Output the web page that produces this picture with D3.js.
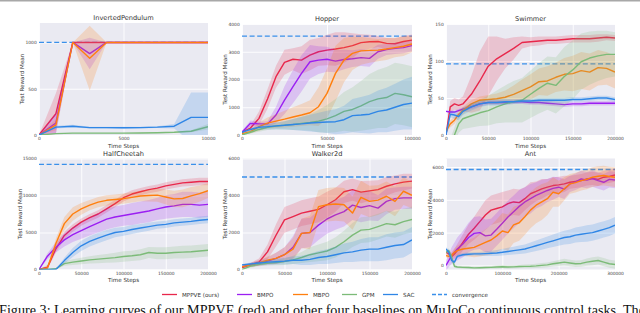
<!DOCTYPE html>
<html>
<head>
<meta charset="utf-8">
<script src="https://cdnjs.cloudflare.com/ajax/libs/d3/7.8.5/d3.min.js"></script>
<style>
  html, body { margin: 0; padding: 0; background: #fff; }
  svg { display: block; }
</style>
</head>
<body>
<svg id="chart" width="640" height="313"></svg>
<script>
// ---- InvertedPendulum ----
const ipSteps = [0, 1000, 2000, 3000, 4000, 5000, 6000, 7000, 8000, 9000, 10000];
const ipMPPVE = [0, 230, 1000, 1000, 1000, 1000, 1000, 1000, 1000, 1000, 1000];
const ipMPPVEsd = [0, 220, 0, 0, 0, 0, 0, 0, 0, 0, 0];
const ipBMPO = [0, 130, 1000, 880, 1000, 1000, 1000, 1000, 1000, 1000, 1000];
const ipBMPOsd = [0, 110, 0, 170, 0, 0, 0, 0, 0, 0, 0];
const ipMBPO = [0, 110, 1000, 830, 1000, 1000, 1000, 1000, 1000, 1000, 1000];
const ipMBPOsd = [0, 60, 0, 350, 0, 0, 0, 0, 0, 0, 0];
const ipGPM = [0, 15, 20, 20, 20, 20, 22, 25, 30, 40, 90];
const ipGPMsd = [0, 5, 5, 5, 5, 5, 5, 5, 5, 10, 30];
const ipSAC = [0, 85, 95, 80, 80, 78, 80, 85, 95, 190, 190];
const ipSACsd = [0, 15, 15, 10, 10, 10, 10, 10, 25, 270, 270];
const ipConvergence = 1000;
const ipXTicks = [0, 5000, 10000];
const ipYTicks = [0, 500, 1000];
const ipYRange = [0, 1210];

// ---- Hopper ----
const hopperSteps = [0, 5000, 10000, 15000, 20000, 25000, 30000, 35000, 40000, 45000, 50000,
  55000, 60000, 65000, 70000, 75000, 80000, 85000, 90000, 95000, 100000];
const hopperMPPVE = [100, 250, 600, 1300, 2100, 2620, 2730, 2700, 2880, 3000, 3060, 3100, 3150, 3220, 3330, 3360, 3370, 3300, 3290, 3370, 3420];
const hopperMPPVEsd = [50, 100, 250, 350, 400, 450, 400, 500, 550, 500, 550, 600, 550, 450, 300, 250, 200, 200, 200, 200, 200];
const hopperBMPO = [100, 420, 400, 400, 720, 1260, 1740, 2220, 2640, 2700, 2730, 2660, 2720, 2750, 2790, 2760, 3000, 3080, 3120, 3150, 3220];
const hopperBMPOsd = [50, 100, 80, 100, 300, 500, 600, 650, 600, 500, 450, 400, 350, 300, 300, 300, 250, 200, 200, 200, 200];
const hopperMBPO = [50, 120, 300, 430, 500, 570, 650, 720, 800, 1020, 1500, 2220, 2700, 2940, 3030, 3050, 3060, 3100, 3150, 3200, 3280];
const hopperMBPOsd = [30, 60, 150, 200, 250, 300, 350, 400, 450, 700, 900, 1000, 800, 600, 500, 450, 400, 400, 350, 350, 300];
const hopperGPM = [0, 100, 200, 280, 320, 350, 380, 420, 450, 500, 580, 700, 850, 920, 1050, 1200, 1300, 1350, 1500, 1450, 1380];
const hopperGPMsd = [0, 50, 80, 100, 120, 150, 200, 250, 300, 400, 500, 600, 700, 800, 900, 1000, 1050, 1100, 1100, 1100, 1100];
const hopperSAC = [100, 200, 280, 300, 330, 350, 380, 400, 430, 450, 470, 480, 550, 700, 720, 750, 850, 900, 1000, 1100, 1150];
const hopperSACsd = [20, 50, 80, 100, 120, 150, 200, 250, 300, 350, 400, 450, 500, 600, 650, 700, 750, 800, 850, 900, 950];
const hopperConvergence = 3560;
const hopperXTicks = [0, 50000, 100000];
const hopperYTicks = [0, 1000, 2000, 3000, 4000];
const hopperYRange = [0, 4000];

// ---- Swimmer ----
const swimmerSteps = [0, 5000, 10000, 15000, 20000, 30000, 40000, 50000, 60000, 70000, 80000, 90000,
  100000, 110000, 120000, 130000, 140000, 150000, 160000, 170000, 180000, 190000, 200000];
const swimmerMPPVE = [0, 38, 42, 40, 42, 55, 73, 93, 103, 110, 117, 125, 126, 127, 128, 128, 129, 130, 130, 130, 131, 132, 131];
const swimmerMPPVEsd = [0, 8, 8, 8, 10, 25, 40, 40, 30, 20, 15, 8, 6, 6, 5, 5, 5, 5, 5, 5, 5, 4, 4];
const swimmerBMPO = [32, 31, 31, 33, 35, 38, 42, 44, 44, 44, 45, 45, 44, 44, 43, 42, 41, 42, 42, 43, 43, 43, 43];
const swimmerBMPOsd = [1, 2, 2, 2, 2, 3, 3, 3, 3, 3, 3, 3, 3, 3, 3, 3, 3, 3, 3, 3, 3, 3, 3];
const swimmerMBPO = [5, 15, 20, 28, 33, 42, 47, 48, 49, 51, 55, 60, 65, 72, 73, 78, 82, 83, 87, 85, 91, 90, 85];
const swimmerMBPOsd = [3, 5, 5, 5, 5, 5, 5, 6, 7, 9, 12, 15, 17, 18, 20, 20, 22, 24, 25, 25, 24, 22, 22];
const swimmerGPM = [-30, -15, 0, 15, 22, 26, 30, 33, 38, 42, 45, 47, 55, 63, 70, 67, 79, 88, 99, 104, 107, 109, 109];
const swimmerGPMsd = [10, 10, 10, 12, 14, 16, 18, 20, 22, 25, 28, 30, 32, 34, 36, 38, 40, 40, 38, 36, 34, 32, 30];
const swimmerSAC = [0, 28, 27, 25, 32, 38, 42, 44, 44, 45, 45, 46, 46, 47, 47, 47, 47, 48, 48, 49, 50, 50, 48];
const swimmerSACsd = [0, 4, 5, 5, 5, 5, 4, 4, 4, 4, 3, 3, 3, 3, 3, 3, 3, 3, 3, 3, 3, 3, 3];
const swimmerConvergence = 96;
const swimmerXTicks = [0, 50000, 100000, 150000, 200000];
const swimmerYTicks = [0, 50, 100, 150];
const swimmerYRange = [0, 150];

// ---- HalfCheetah ----
const hcSteps = [0, 10000, 20000, 30000, 40000, 50000, 60000, 70000, 80000, 90000, 100000,
  110000, 120000, 130000, 140000, 150000, 160000, 170000, 180000, 190000, 200000];
const hcMPPVE = [0, 300, 2800, 4600, 5600, 6400, 7000, 7500, 8200, 8900, 9700, 10200, 10500, 10800, 11000, 11300, 11500, 11700, 11800, 11900, 11900];
const hcMPPVEsd = [0, 300, 500, 500, 500, 500, 500, 500, 500, 500, 500, 500, 500, 500, 500, 500, 500, 500, 500, 500, 500];
const hcBMPO = [0, 1800, 3000, 4000, 4700, 5250, 5800, 6300, 6800, 7100, 7300, 7500, 7700, 7900, 8200, 8450, 8600, 8800, 8800, 8700, 8800];
const hcBMPOsd = [0, 400, 700, 900, 1000, 1100, 1200, 1300, 1400, 1400, 1400, 1500, 1500, 1500, 1500, 1600, 1600, 1700, 1700, 1700, 1700];
const hcMBPO = [0, 200, 3500, 6200, 7500, 8200, 8700, 9100, 9350, 9450, 9570, 9750, 9930, 10000, 10050, 9800, 9550, 9600, 9950, 10250, 10650];
const hcMBPOsd = [0, 200, 700, 900, 900, 800, 700, 700, 700, 700, 700, 700, 700, 800, 900, 1000, 1100, 1200, 1200, 1100, 1000];
const hcGPM = [0, 0, 100, 800, 1000, 1150, 1300, 1400, 1500, 1600, 1750, 1850, 2000, 2300, 2200, 2200, 2300, 2350, 2400, 2500, 2600];
const hcGPMsd = [0, 0, 100, 300, 400, 450, 500, 550, 600, 650, 700, 700, 750, 750, 800, 800, 800, 850, 850, 850, 850];
const hcSAC = [0, 0, 0, 1200, 2300, 3200, 3800, 4250, 4650, 5000, 5150, 5400, 5600, 5800, 6000, 6100, 6300, 6400, 6500, 6650, 6750];
const hcSACsd = [0, 0, 50, 400, 600, 700, 700, 700, 700, 650, 600, 600, 550, 550, 500, 500, 500, 500, 500, 500, 500];
const hcConvergence = 14200;
const hcXTicks = [0, 50000, 100000, 150000, 200000];
const hcYTicks = [0, 5000, 10000, 15000];
const hcYRange = [0, 15000];

// ---- Walker2d ----
const wkSteps = hcSteps;
const wkMPPVE = [100, 250, 400, 950, 1850, 2680, 2860, 3050, 3150, 3250, 3500, 3770, 4200, 4320, 4180, 4250, 4320, 4500, 4630, 4720, 4780];
const wkMPPVEsd = [50, 100, 200, 400, 600, 700, 700, 700, 700, 700, 700, 650, 600, 600, 600, 550, 500, 500, 450, 450, 400];
const wkBMPO = [150, 250, 350, 450, 600, 800, 1200, 1950, 2000, 2400, 2730, 2950, 3130, 3480, 3350, 3450, 3320, 3680, 3830, 3870, 3870];
const wkBMPOsd = [50, 100, 150, 200, 300, 400, 600, 800, 800, 800, 800, 800, 800, 800, 800, 800, 700, 700, 600, 600, 600];
const wkMBPO = [150, 250, 350, 500, 600, 800, 1100, 1950, 2000, 3400, 3500, 3540, 3500, 3050, 3900, 3680, 3750, 3960, 3680, 4230, 4010];
const wkMBPOsd = [50, 100, 150, 200, 300, 400, 600, 800, 900, 900, 900, 900, 900, 900, 900, 850, 800, 800, 800, 750, 700];
const wkGPM = [0, 180, 280, 330, 380, 430, 520, 650, 800, 900, 1000, 1200, 1500, 1860, 2130, 2170, 2320, 2480, 2420, 2590, 2700];
const wkGPMsd = [20, 80, 100, 120, 150, 180, 220, 300, 400, 450, 500, 550, 600, 650, 700, 700, 700, 700, 700, 700, 700];
const wkSAC = [250, 300, 350, 400, 420, 450, 500, 500, 550, 650, 700, 800, 900, 950, 1050, 1100, 1100, 1200, 1300, 1350, 1600];
const wkSACsd = [50, 80, 100, 120, 150, 180, 200, 250, 300, 350, 400, 450, 500, 550, 600, 650, 650, 700, 700, 700, 700];
const wkConvergence = 5000;
const wkXTicks = [0, 50000, 100000, 150000, 200000];
const wkYTicks = [0, 2000, 4000, 6000];
const wkYRange = [0, 6000];

// ---- Ant ----
const antSteps = [0, 5000, 10000, 15000, 20000, 30000, 40000, 50000, 60000, 70000, 80000, 90000, 100000,
  110000, 120000, 130000, 140000, 150000, 160000, 170000, 180000, 190000, 200000, 210000, 220000,
  230000, 240000, 250000, 260000, 270000, 280000, 290000, 300000];
const antMPPVE = [800, 700, 550, 700, 900, 1400, 1900, 2270, 2670, 3070, 3370, 3470, 3570, 3770, 3870, 3830, 4070, 4370, 4510, 4670, 4770, 4870, 4910, 4970, 5070, 5120, 5170, 5270, 5310, 5250, 5380, 5420, 5520];
const antMPPVEsd = [100, 150, 200, 300, 400, 500, 600, 700, 800, 900, 900, 900, 900, 800, 800, 800, 700, 700, 600, 600, 500, 500, 500, 500, 400, 400, 400, 400, 400, 400, 400, 400, 400];
const antBMPO = [0, 300, 600, 800, 1000, 1300, 1700, 1950, 2000, 1800, 1850, 2200, 2570, 2950, 3270, 3600, 3870, 4070, 4270, 4420, 4570, 4700, 4770, 4650, 4970, 5100, 5270, 5200, 5300, 5170, 5070, 5250, 5210];
const antBMPOsd = [300, 400, 500, 600, 700, 800, 900, 1000, 1000, 1000, 1000, 1000, 1000, 1000, 1000, 1000, 900, 900, 800, 800, 700, 700, 600, 600, 500, 500, 500, 500, 500, 500, 500, 500, 500];
const antMBPO = [600, 550, 600, 800, 900, 1000, 1050, 1100, 1250, 1400, 1550, 1800, 2100, 2000, 2470, 2600, 2970, 3370, 3670, 3870, 4070, 4470, 4370, 4670, 4970, 5050, 5170, 5250, 5380, 5440, 5480, 5420, 5380];
const antMBPOsd = [100, 150, 200, 250, 300, 400, 500, 600, 700, 800, 900, 1000, 1100, 1100, 1100, 1100, 1100, 1100, 1100, 1100, 1000, 900, 800, 700, 600, 600, 600, 600, 600, 600, 600, 600, 600];
const antGPM = [800, 900, 500, -50, -100, -120, -130, -150, -140, -130, -120, -100, -80, -100, -90, -70, -60, -50, -30, 0, 30, 100, 150, 200, 150, 100, 120, 200, 250, 300, 200, 100, 50];
const antGPMsd = [100, 150, 150, 100, 80, 80, 80, 80, 80, 80, 80, 100, 100, 100, 100, 100, 120, 120, 130, 140, 150, 160, 180, 200, 200, 200, 200, 220, 240, 250, 250, 250, 250];
const antSAC = [1000, 800, 300, 200, 550, 650, 680, 700, 700, 720, 740, 760, 800, 850, 900, 950, 1000, 1100, 1200, 1300, 1400, 1500, 1600, 1700, 1750, 1850, 1900, 1950, 2000, 2100, 2200, 2300, 2450];
const antSACsd = [100, 150, 150, 100, 100, 100, 100, 100, 120, 140, 160, 180, 200, 220, 240, 260, 280, 300, 320, 340, 360, 380, 400, 420, 440, 460, 480, 500, 500, 500, 500, 500, 500];
const antConvergence = 5850;
const antXTicks = [0, 100000, 200000, 300000];
const antYTicks = [0, 2000, 4000, 6000];
const antYRange = [-250, 6520];

// ---- series / legend ----
const algoNames = ["MPPVE (ours)", "BMPO", "MBPO", "GPM", "SAC"];
const algoColors = ["#e8274b", "#9b1ff2", "#ff7f0e", "#7cbb78", "#2f86e6"];
const convColor = "#3a90ea";

const FONT = "DejaVu Sans, sans-serif";
const svg = d3.select("#chart");

// thin grey rule at the very top of the crop
svg.append("rect").attr("x", 0).attr("y", 0).attr("width", 640).attr("height", 1.5).attr("fill", "#a8a8a8");

const panels = [
  { title: "InvertedPendulum", steps: ipSteps, mean: [ipMPPVE, ipBMPO, ipMBPO, ipGPM, ipSAC],
    sd: [ipMPPVEsd, ipBMPOsd, ipMBPOsd, ipGPMsd, ipSACsd], conv: ipConvergence,
    xTicks: ipXTicks, yTicks: ipYTicks, yRange: ipYRange, box: [39, 23, 208, 135], ylabX: 21.7 },
  { title: "Hopper", steps: hopperSteps, mean: [hopperMPPVE, hopperBMPO, hopperMBPO, hopperGPM, hopperSAC],
    sd: [hopperMPPVEsd, hopperBMPOsd, hopperMBPOsd, hopperGPMsd, hopperSACsd], conv: hopperConvergence,
    xTicks: hopperXTicks, yTicks: hopperYTicks, yRange: hopperYRange, box: [242, 24, 412, 135], ylabX: 225 },
  { title: "Swimmer", steps: swimmerSteps, mean: [swimmerMPPVE, swimmerBMPO, swimmerMBPO, swimmerGPM, swimmerSAC],
    sd: [swimmerMPPVEsd, swimmerBMPOsd, swimmerMBPOsd, swimmerGPMsd, swimmerSACsd], conv: swimmerConvergence,
    xTicks: swimmerXTicks, yTicks: swimmerYTicks, yRange: swimmerYRange, box: [446, 24, 615, 135], ylabX: 430 },
  { title: "HalfCheetah", steps: hcSteps, mean: [hcMPPVE, hcBMPO, hcMBPO, hcGPM, hcSAC],
    sd: [hcMPPVEsd, hcBMPOsd, hcMBPOsd, hcGPMsd, hcSACsd], conv: hcConvergence,
    xTicks: hcXTicks, yTicks: hcYTicks, yRange: hcYRange, box: [39, 158.5, 208, 269.5], ylabX: 20 },
  { title: "Walker2d", steps: wkSteps, mean: [wkMPPVE, wkBMPO, wkMBPO, wkGPM, wkSAC],
    sd: [wkMPPVEsd, wkBMPOsd, wkMBPOsd, wkGPMsd, wkSACsd], conv: wkConvergence,
    xTicks: wkXTicks, yTicks: wkYTicks, yRange: wkYRange, box: [242, 158.5, 412, 269.5], ylabX: 225 },
  { title: "Ant", steps: antSteps, mean: [antMPPVE, antBMPO, antMBPO, antGPM, antSAC],
    sd: [antMPPVEsd, antBMPOsd, antMBPOsd, antGPMsd, antSACsd], conv: antConvergence,
    xTicks: antXTicks, yTicks: antYTicks, yRange: antYRange, box: [446, 158.5, 615, 269.5], ylabX: 430 }
];

panels.forEach((p, pi) => {
  const [x0, y0, x1, y1] = p.box;
  const w = x1 - x0, h = y1 - y0;
  const x = d3.scaleLinear().domain([0, p.xTicks[p.xTicks.length - 1]]).range([0, w]);
  const y = d3.scaleLinear().domain(p.yRange).range([h, 0]);

  const g = svg.append("g").attr("transform", `translate(${x0},${y0})`);
  g.append("rect").attr("width", w).attr("height", h).attr("fill", "#eaeaf2");

  // white grid
  g.append("g").attr("transform", `translate(0,${h})`)
    .call(d3.axisBottom(x).tickValues(p.xTicks).tickSize(-h).tickFormat(""))
    .call(s => s.select(".domain").remove())
    .selectAll("line").attr("stroke", "#fff").attr("stroke-width", 0.9);
  g.append("g")
    .call(d3.axisLeft(y).tickValues(p.yTicks).tickSize(-w).tickFormat(""))
    .call(s => s.select(".domain").remove())
    .selectAll("line").attr("stroke", "#fff").attr("stroke-width", 0.9);

  // tick labels
  const xa = g.append("g").attr("transform", `translate(0,${h})`)
    .call(d3.axisBottom(x).tickValues(p.xTicks).tickSize(0).tickPadding(2.2).tickFormat(d3.format("d")));
  const ya = g.append("g")
    .call(d3.axisLeft(y).tickValues(p.yTicks).tickSize(0).tickPadding(2.3).tickFormat(d3.format("d")));
  [xa, ya].forEach(a => {
    a.select(".domain").remove();
    a.selectAll("text").attr("font-family", FONT).attr("font-size", 4.4).attr("fill", "#444");
  });

  // clip
  const cid = "clip" + pi;
  g.append("clipPath").attr("id", cid).append("rect").attr("width", w).attr("height", h);
  const plot = g.append("g").attr("clip-path", `url(#${cid})`);

  // convergence line (under the curves)
  plot.append("line")
    .attr("x1", 0).attr("x2", w).attr("y1", y(p.conv)).attr("y2", y(p.conv))
    .attr("stroke", convColor).attr("stroke-width", 1.3).attr("stroke-dasharray", "5,2.6");

  p.mean.forEach((m, k) => {
    const rows = p.steps.map((s, i) => ({ s, m: m[i], sd: p.sd[k][i] }));
    const area = d3.area().x(d => x(d.s)).y0(d => y(d.m - d.sd)).y1(d => y(d.m + d.sd));
    const line = d3.line().x(d => x(d.s)).y(d => y(d.m));
    plot.append("path").datum(rows).attr("d", area)
      .attr("fill", algoColors[k]).attr("fill-opacity", 0.2).attr("stroke", "none");
    plot.append("path").datum(rows).attr("d", line)
      .attr("fill", "none").attr("stroke", algoColors[k]).attr("stroke-width", 1.4)
      .attr("stroke-linejoin", "round");
  });

  // titles and labels
  g.append("text").attr("x", w / 2).attr("y", -3)
    .attr("text-anchor", "middle").attr("font-family", FONT).attr("font-size", 6.6).attr("fill", "#333")
    .text(p.title);
  g.append("text").attr("x", w / 2).attr("y", h + 12.6)
    .attr("text-anchor", "middle").attr("font-family", FONT).attr("font-size", 5.6).attr("fill", "#333")
    .text("Time Steps");
  g.append("text")
    .attr("transform", `translate(${p.ylabX - x0 + 2},${h / 2}) rotate(-90)`)
    .attr("text-anchor", "middle").attr("font-family", FONT).attr("font-size", 5.6).attr("fill", "#333")
    .text("Test Reward Mean");
});

// legend
const legendX = [162, 237, 293, 342, 383, 432];
const legendY = 294.5;
const legend = svg.append("g");
algoNames.concat(["convergence"]).forEach((name, i) => {
  const c = i < 5 ? algoColors[i] : convColor;
  legend.append("line")
    .attr("x1", legendX[i]).attr("x2", legendX[i] + 15).attr("y1", legendY).attr("y2", legendY)
    .attr("stroke", c).attr("stroke-width", 1.3)
    .attr("stroke-dasharray", i < 5 ? null : "4,2");
  legend.append("text").attr("x", legendX[i] + 20).attr("y", legendY + 2)
    .attr("font-family", FONT).attr("font-size", 5.6).attr("fill", "#333").text(name);
});

// caption (cut off by the crop, as in the reference)
svg.append("text").attr("x", -1).attr("y", 315)
  .attr("font-family", "Liberation Serif, Times New Roman, serif").attr("font-size", 14)
  .attr("fill", "#111").attr("textLength", 646).attr("lengthAdjust", "spacingAndGlyphs")
  .text("Figure 3: Learning curves of our MPPVE (red) and other four baselines on MuJoCo continuous control tasks. The");
</script>
</body>
</html>
